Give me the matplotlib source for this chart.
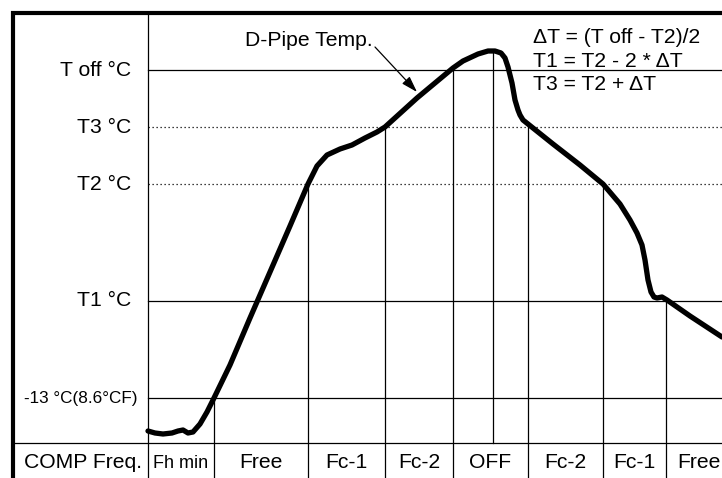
import numpy as np
import matplotlib.pyplot as plt

plt.rcParams['font.family'] = ['Liberation Sans', 'DejaVu Sans']

# temperature thresholds (vertical position on the chart)
level_labels = ['T off °C', 'T3 °C', 'T2 °C', 'T1 °C', '-13 °C(8.6°CF)']
level_y = [70, 127, 184, 301, 398]
level_dotted = [False, True, True, False, False]

# compressor frequency stages along the time axis
stage_labels = ['Fh min', 'Free', 'Fc-1', 'Fc-2', 'OFF', 'Fc-2', 'Fc-1', 'Free']
stage_edges = [148, 214, 308, 385, 453, 528, 603, 666, 732]

# switching moments marked by a vertical line from the curve down
switch_x = [214, 308, 385, 453, 493, 528, 603, 666]

# D-pipe temperature trace
pipe_x = [148, 155, 163, 172, 178, 183, 188, 193, 200, 207, 214, 230, 250, 270,
          290, 308, 317, 327, 340, 352, 365, 377, 385, 417, 453, 463, 478, 488,
          495, 501, 505, 508, 512, 515, 518, 520, 523, 528, 553, 580, 603, 620,
          630, 637, 642, 645, 648, 651, 654, 657, 662, 667, 690, 722]
pipe_y = [431, 433, 434, 433, 431, 430, 433, 432, 424, 412, 398, 365, 318, 272,
          226, 184, 166, 155, 149, 145, 138, 132, 127, 98, 68, 61, 54, 51,
          51, 53, 58, 67, 83, 100, 110, 115, 120, 124, 144, 165, 184, 204,
          220, 233, 245, 260, 280, 292, 297, 298, 297, 300, 316, 337]

fig = plt.figure(figsize=(7.22, 4.78), dpi=100)
ax = fig.add_axes([0, 0, 1, 1])
ax.set_xlim(0, 722)
ax.set_ylim(478, 0)
ax.axis('off')

thin = 0.9
fs = 15.2

# outer frame and table rules
ax.plot([13, 13, 730], [490, 13, 13], color='black', lw=3, solid_joinstyle='miter')
ax.plot([148, 148], [13, 478], color='black', lw=thin)
ax.plot([13, 722], [443, 443], color='black', lw=thin)

for label, y, dotted in zip(level_labels, level_y, level_dotted):
    ls = (0, (1, 2.2)) if dotted else '-'
    ax.plot([148, 722], [y, y], color='black', lw=thin, linestyle=ls)
    if label.startswith('-13'):
        ax.text(137, y, label, ha='right', va='center', fontsize=12.3)
    else:
        ax.text(131, y, label, ha='right', va='center', fontsize=fs)

for x in switch_x:
    top = np.interp(x, pipe_x, pipe_y)
    bottom = 478 if x in stage_edges else 443
    ax.plot([x, x], [top, bottom], color='black', lw=thin)

ax.plot(pipe_x, pipe_y, color='black', lw=3.8, solid_joinstyle='round',
        solid_capstyle='round', zorder=3)

# bottom row: compressor frequency per stage
ax.text(83, 462, 'COMP Freq.', ha='center', va='center', fontsize=fs)
for i, label in enumerate(stage_labels):
    cx = (stage_edges[i] + stage_edges[i + 1]) / 2
    size = 13 if label == 'Fh min' else fs
    ax.text(cx, 463, label, ha='center', va='center', fontsize=size)

ax.text(245, 46, 'D-Pipe Temp.', ha='left', va='baseline', fontsize=fs)
ax.annotate('', xy=(417, 92), xytext=(375, 47),
            arrowprops=dict(arrowstyle='-|>,head_length=0.7,head_width=0.22',
                            color='black', lw=0.9, shrinkA=0, shrinkB=0,
                            mutation_scale=14))

formulas = ['ΔT = (T off - T2)/2', 'T1 = T2 - 2 * ΔT', 'T3 = T2 + ΔT']
for i, line in enumerate(formulas):
    ax.text(533, 43 + 23.5 * i, line, ha='left', va='baseline', fontsize=fs)

fig.savefig('out.png', dpi=100)
